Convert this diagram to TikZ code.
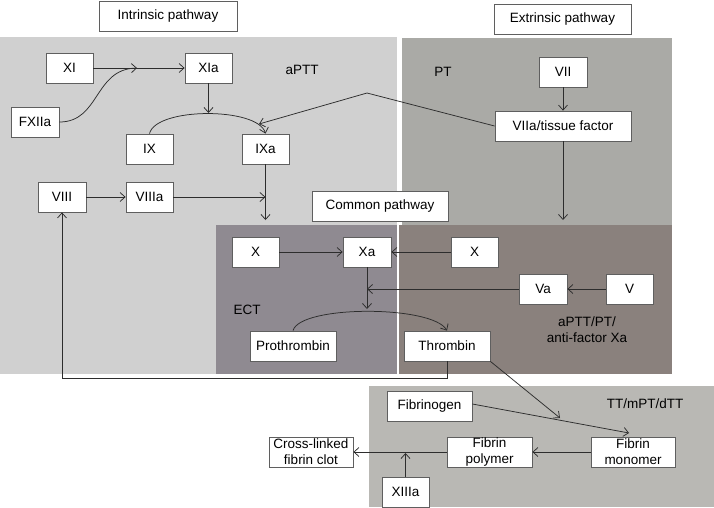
\documentclass[tikz,border=0pt]{standalone}
\usepackage{fontspec}
\setmainfont{Liberation Sans}
\usetikzlibrary{arrows.meta}
\definecolor{intrcol}{RGB}{208,208,208}
\definecolor{extrcol}{RGB}{170,170,166}
\definecolor{ectcol}{RGB}{143,138,145}
\definecolor{commcol}{RGB}{138,129,125}
\definecolor{ttcol}{RGB}{185,184,180}
\definecolor{linecol}{RGB}{45,45,45}
\definecolor{boxline}{RGB}{95,95,95}
\begin{document}
\begin{tikzpicture}[x=1pt,y=-1pt,
  box/.style={draw=boxline,fill=white,line width=0.8pt,inner sep=0pt,minimum height=30pt,align=center,font=\fontsize{13.5}{16}\selectfont},
  lbl/.style={inner sep=0pt,align=center,font=\fontsize{13.5}{16}\selectfont},
  arr/.style={draw=linecol,line width=0.75pt,-{Straight Barb[length=5pt,width=9pt]}},
  ln/.style={draw=linecol,line width=0.75pt}]
\useasboundingbox (0,0) rectangle (714,507);
% regions
\fill[intrcol] (0,37) rectangle (397,374);
\fill[extrcol] (402,38) rectangle (672,225);
\fill[ectcol] (216,225) rectangle (397,374);
\fill[commcol] (399,225) rectangle (672,374);
\fill[ttcol] (369,386) rectangle (714,507);
% header boxes
\node[box,minimum width=138pt] (intr) at (168,16) {Intrinsic pathway};
\node[box,minimum width=137pt] (extr) at (562.5,19) {Extrinsic pathway};
\node[box,minimum width=136pt] (comm) at (380,206) {Common pathway};
% region labels
\node[lbl] (aptt) at (302,70) {aPTT};
\node[lbl] (pt) at (443,72) {PT};
\node[lbl] (ect) at (247,310) {ECT};
\node[lbl] (axa) at (587,330) {aPTT/PT/\\anti-factor Xa};
\node[lbl] (tt) at (645,404) {TT/mPT/dTT};
% factor boxes
\node[box,minimum width=47pt] (XI) at (69.5,68) {XI};
\node[box,minimum width=47pt] (XIa) at (208.5,68) {XIa};
\node[box,minimum width=48pt] (FXIIa) at (35,122) {FXIIa};
\node[box,minimum width=47pt] (IX) at (149.5,149) {IX};
\node[box,minimum width=47pt] (IXa) at (265.5,149) {IXa};
\node[box,minimum width=48pt] (VIII) at (62,197) {VIII};
\node[box,minimum width=47pt] (VIIIa) at (149.5,197) {VIIIa};
\node[box,minimum width=48pt] (VII) at (563,72) {VII};
\node[box,minimum width=136pt] (VIIa) at (563,126) {VIIa/tissue factor};
\node[box,minimum width=47pt] (Xl) at (255.5,252) {X};
\node[box,minimum width=48pt] (Xa) at (367,252) {Xa};
\node[box,minimum width=47pt] (Xr) at (474.5,252) {X};
\node[box,minimum width=48pt] (Va) at (543,289) {Va};
\node[box,minimum width=47pt] (V) at (629.5,289) {V};
\node[box,minimum width=86pt] (Pro) at (293,346) {Prothrombin};
\node[box,minimum width=86pt] (Thr) at (447,346) {Thrombin};
\node[box,minimum width=85pt] (Fgen) at (429.5,406) {Fibrinogen};
\node[box,minimum width=84pt] (Clot) at (311,452) {Cross-linked\\fibrin clot};
\node[box,minimum width=85pt] (Poly) at (489.5,452) {Fibrin\\polymer};
\node[box,minimum width=84pt] (Mono) at (633,452) {Fibrin\\monomer};
\node[box,minimum width=47pt] (XIIIa) at (405.5,492) {XIIIa};
% junction coordinates
\coordinate (j1) at (137,68);
\coordinate (j2) at (208.5,113);
\coordinate (j3) at (259,124);
\coordinate (j4) at (367,93);
\coordinate (j5) at (265.5,220);
\coordinate (j6) at (265.5,197);
\coordinate (j7) at (563,220);
\coordinate (j8) at (367,309);
\coordinate (j9) at (367,289);
\coordinate (j10) at (560,418);
\coordinate (j11) at (629,433);
\coordinate (j12) at (405.5,453);
\coordinate (j13) at (447,378);
% intrinsic connectors
\draw[arr] (XI) -- (XIa);
\draw[arr] (FXIIa.east) .. controls (100,122) and (94,69) .. (j1);
\draw[arr] (XIa) -- (j2);
\draw[arr] (IX.north) .. controls (156,107) and (258,107) .. (IXa.north);
\draw[arr] (VIIa.west) -- (j4) -- (j3);
\draw[arr] (IXa) -- (j5);
\draw[arr] (VIII) -- (VIIIa);
\draw[arr] (VIIIa) -- (j6);
% extrinsic
\draw[arr] (VII) -- (VIIa);
\draw[arr] (VIIa) -- (j7);
% common
\draw[arr] (Xl) -- (Xa);
\draw[arr] (Xr) -- (Xa);
\draw[arr] (Xa) -- (j8);
\draw[arr] (Va) -- (j9);
\draw[arr] (V) -- (Va);
\draw[arr] (Pro.north) .. controls (300,305) and (432,305) .. (Thr.north);
\draw[arr] (Thr.south) -- (j13) -| (VIII.south);
\draw[arr] (Thr.south east) -- (j10);
% fibrin
\draw[arr] (Fgen.east |- 0,404) -- (j11);
\draw[arr] (Mono) -- (Poly);
\draw[arr] (Poly) -- (Clot);
\draw[arr] (XIIIa) -- (j12);
\end{tikzpicture}
\end{document}
